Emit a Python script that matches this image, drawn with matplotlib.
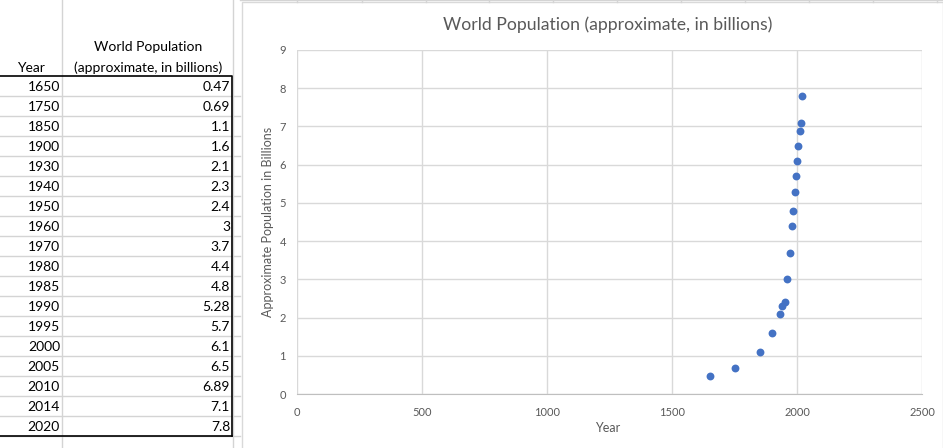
import matplotlib.pyplot as plt
from matplotlib.patches import Rectangle

years = [1650, 1750, 1850, 1900, 1930, 1940, 1950, 1960, 1970, 1980,
         1985, 1990, 1995, 2000, 2005, 2010, 2014, 2020]
population = [0.47, 0.69, 1.1, 1.6, 2.1, 2.3, 2.4, 3, 3.7, 4.4,
              4.8, 5.28, 5.7, 6.1, 6.5, 6.89, 7.1, 7.8]
pop_labels = ["0.47", "0.69", "1.1", "1.6", "2.1", "2.3", "2.4", "3", "3.7", "4.4",
              "4.8", "5.28", "5.7", "6.1", "6.5", "6.89", "7.1", "7.8"]
x_ticks = [0, 500, 1000, 1500, 2000, 2500]
y_ticks = [0, 1, 2, 3, 4, 5, 6, 7, 8, 9]

plt.rcParams["font.family"] = ["Lato", "DejaVu Sans"]

W, H = 943, 448
fig = plt.figure(figsize=(W / 100, H / 100), dpi=100)

# spreadsheet layer in pixel coordinates
sheet = fig.add_axes([0, 0, 1, 1])
sheet.set_xlim(0, W)
sheet.set_ylim(H, 0)
sheet.axis("off")

grid_c = "#d4d4d4"
row_top = 75.7
row_h = 20
n = len(years)
cell_fs = 10

# gridlines
sheet.plot([62, 62], [0, H], color=grid_c, lw=1)
sheet.plot([233, 233], [0, H], color=grid_c, lw=1)
for k in range(1, n + 2):
    y = row_top + k * row_h
    sheet.plot([0, 240], [y, y], color=grid_c, lw=1)
for x in [297, 362, 426, 489, 553, 617, 681, 745, 809, 873, 937]:
    sheet.plot([x, x], [0, 2], color=grid_c, lw=1)
sheet.plot([240, W], [0.5, 0.5], color=grid_c, lw=1)

# black border around the data
bottom = row_top + n * row_h
sheet.plot([0, 232, 232], [row_top, row_top, bottom], color="black", lw=1.2)
sheet.plot([0, 232], [bottom, bottom], color="black", lw=1.2)

# header
sheet.text(31, 72, "Year", ha="center", va="baseline", fontsize=cell_fs, color="black")
sheet.text(148, 51, "World Population", ha="center", va="baseline", fontsize=cell_fs, color="black")
sheet.text(148, 72, "(approximate, in billions)", ha="center", va="baseline", fontsize=cell_fs, color="black")

for i, (yr, lab) in enumerate(zip(years, pop_labels)):
    yb = row_top + (i + 1) * row_h - 4.5
    sheet.text(60, yb, str(yr), ha="right", va="baseline", fontsize=cell_fs, color="black")
    sheet.text(230, yb, lab, ha="right", va="baseline", fontsize=cell_fs, color="black")

# chart frame
sheet.add_patch(Rectangle((242, 2), W - 242, H, facecolor="white", edgecolor="#d9d9d9", lw=1))

# title and axis labels
text_c = "#595959"
sheet.text(608, 25, "World Population (approximate, in billions)", ha="center", va="center",
           fontsize=12.7, color=text_c)
sheet.text(608, 428, "Year", ha="center", va="center", fontsize=9, color=text_c)
sheet.text(268, 222, "Approximate Population in Billions", ha="center", va="center",
           rotation=90, fontsize=9, color=text_c)

# plot area
left, right, top, bot = 297, 922, 50, 394
ax = fig.add_axes([left / W, (H - bot) / H, (right - left) / W, (bot - top) / H])
ax.scatter(years, population, s=32, color="#4472C4", zorder=3, linewidths=0)
ax.set_xlim(0, 2500)
ax.set_ylim(0, 9)
ax.set_xticks(x_ticks)
ax.set_yticks(y_ticks)
ax.grid(True, color="#d9d9d9", lw=1)
ax.set_axisbelow(True)
for s in ["top", "right", "left"]:
    ax.spines[s].set_visible(False)
ax.spines["bottom"].set_color("#bfbfbf")
ax.tick_params(length=0, labelsize=8, colors=text_c, pad=8)
ax.tick_params(axis="x", pad=9)

fig.savefig("out.png", dpi=100)
